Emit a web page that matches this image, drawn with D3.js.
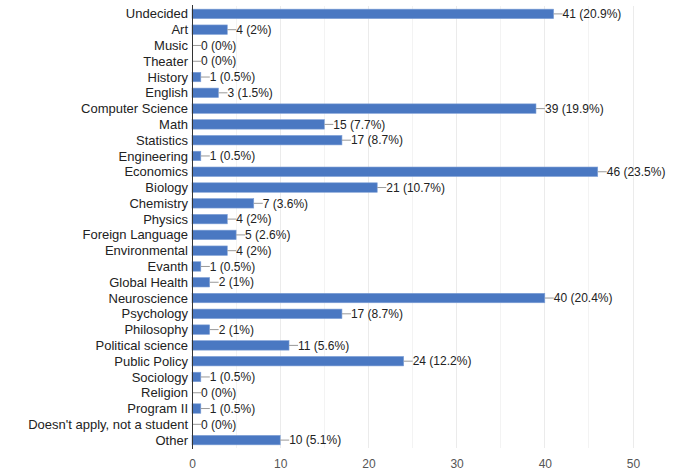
<!DOCTYPE html>
<html><head><meta charset="utf-8">
<script src="https://cdn.jsdelivr.net/npm/d3@7"></script>
<style>body{margin:0;background:#fff;}svg{display:block;font-family:Arial,"Liberation Sans",sans-serif;}</style>
</head><body>
<svg id="c" width="681" height="470"></svg>
<script>
const categories = ["Undecided","Art","Music","Theater","History","English","Computer Science","Math","Statistics","Engineering","Economics","Biology","Chemistry","Physics","Foreign Language","Environmental","Evanth","Global Health","Neuroscience","Psychology","Philosophy","Political science","Public Policy","Sociology","Religion","Program II","Doesn't apply, not a student","Other"];
const counts = [41,4,0,0,1,3,39,15,17,1,46,21,7,4,5,4,1,2,40,17,2,11,24,1,0,1,0,10];
const percents = ["20.9%","2%","0%","0%","0.5%","1.5%","19.9%","7.7%","8.7%","0.5%","23.5%","10.7%","3.6%","2%","2.6%","2%","0.5%","1%","20.4%","8.7%","1%","5.6%","12.2%","0.5%","0%","0.5%","0%","5.1%"];
const xTicks = [0,10,20,30,40,50];
const gridValues = [5,10,15,20,25,30,35,40,45,50];

const svg = d3.select("#c");
const m = {left:192, right:48, top:6, bottom:22};
const W = 681, H = 470;
const x = d3.scaleLinear().domain([0,50]).range([m.left, W - m.right]);
const y = d3.scaleBand().domain(categories).range([m.top, 448]).paddingInner(0.4).paddingOuter(0.2);

svg.append("g").selectAll("line").data(gridValues).join("line")
  .attr("x1", d=>x(d)).attr("x2", d=>x(d)).attr("y1", m.top).attr("y2", 448)
  .attr("stroke", d=> d%10===0 ? "#ebebeb" : "#f3f3f3").attr("stroke-width",1).attr("shape-rendering","crispEdges");

const data = categories.map((c,i)=>({c, v:counts[i], p:percents[i]}));

svg.append("g").selectAll("rect").data(data).join("rect")
  .attr("x", x(0)).attr("y", d=>y(d.c)).attr("width", d=>x(d.v)-x(0)).attr("height", y.bandwidth())
  .attr("fill","#4a78c2").attr("stroke","#7fa0d6").attr("stroke-width",0.6);

svg.append("g").selectAll("line").data(data).join("line")
  .attr("x1", d=>x(d.v)).attr("x2", d=>x(d.v)+9)
  .attr("y1", d=>y(d.c)+y.bandwidth()/2).attr("y2", d=>y(d.c)+y.bandwidth()/2)
  .attr("stroke","#999").attr("stroke-width",1);

svg.append("g").selectAll("text").data(data).join("text")
  .attr("x", d=>x(d.v)+9).attr("y", d=>y(d.c)+y.bandwidth()/2).attr("dy","0.35em")
  .attr("font-size",12).attr("fill","#222").text(d=>`${d.v} (${d.p})`);

// category labels
svg.append("g").selectAll("text").data(categories).join("text")
  .attr("x", m.left-4).attr("y", d=>y(d)+y.bandwidth()/2).attr("dy","0.35em")
  .attr("text-anchor","end").attr("font-size",13).attr("fill","#222").text(d=>d);

// axis line
svg.append("line").attr("x1",x(0)).attr("x2",x(0)).attr("y1",m.top-1).attr("y2",449)
  .attr("stroke","#333").attr("stroke-width",1).attr("shape-rendering","crispEdges");

// x tick labels
const xAxis = d3.axisBottom(x).tickValues(xTicks).tickSize(0).tickPadding(10);
const gx = svg.append("g").attr("transform","translate(0,449)").call(xAxis);
gx.select(".domain").remove();
gx.selectAll("text").attr("font-size",12).attr("fill","#555").attr("font-family","Arial,'Liberation Sans',sans-serif");
</script>
</body></html>
